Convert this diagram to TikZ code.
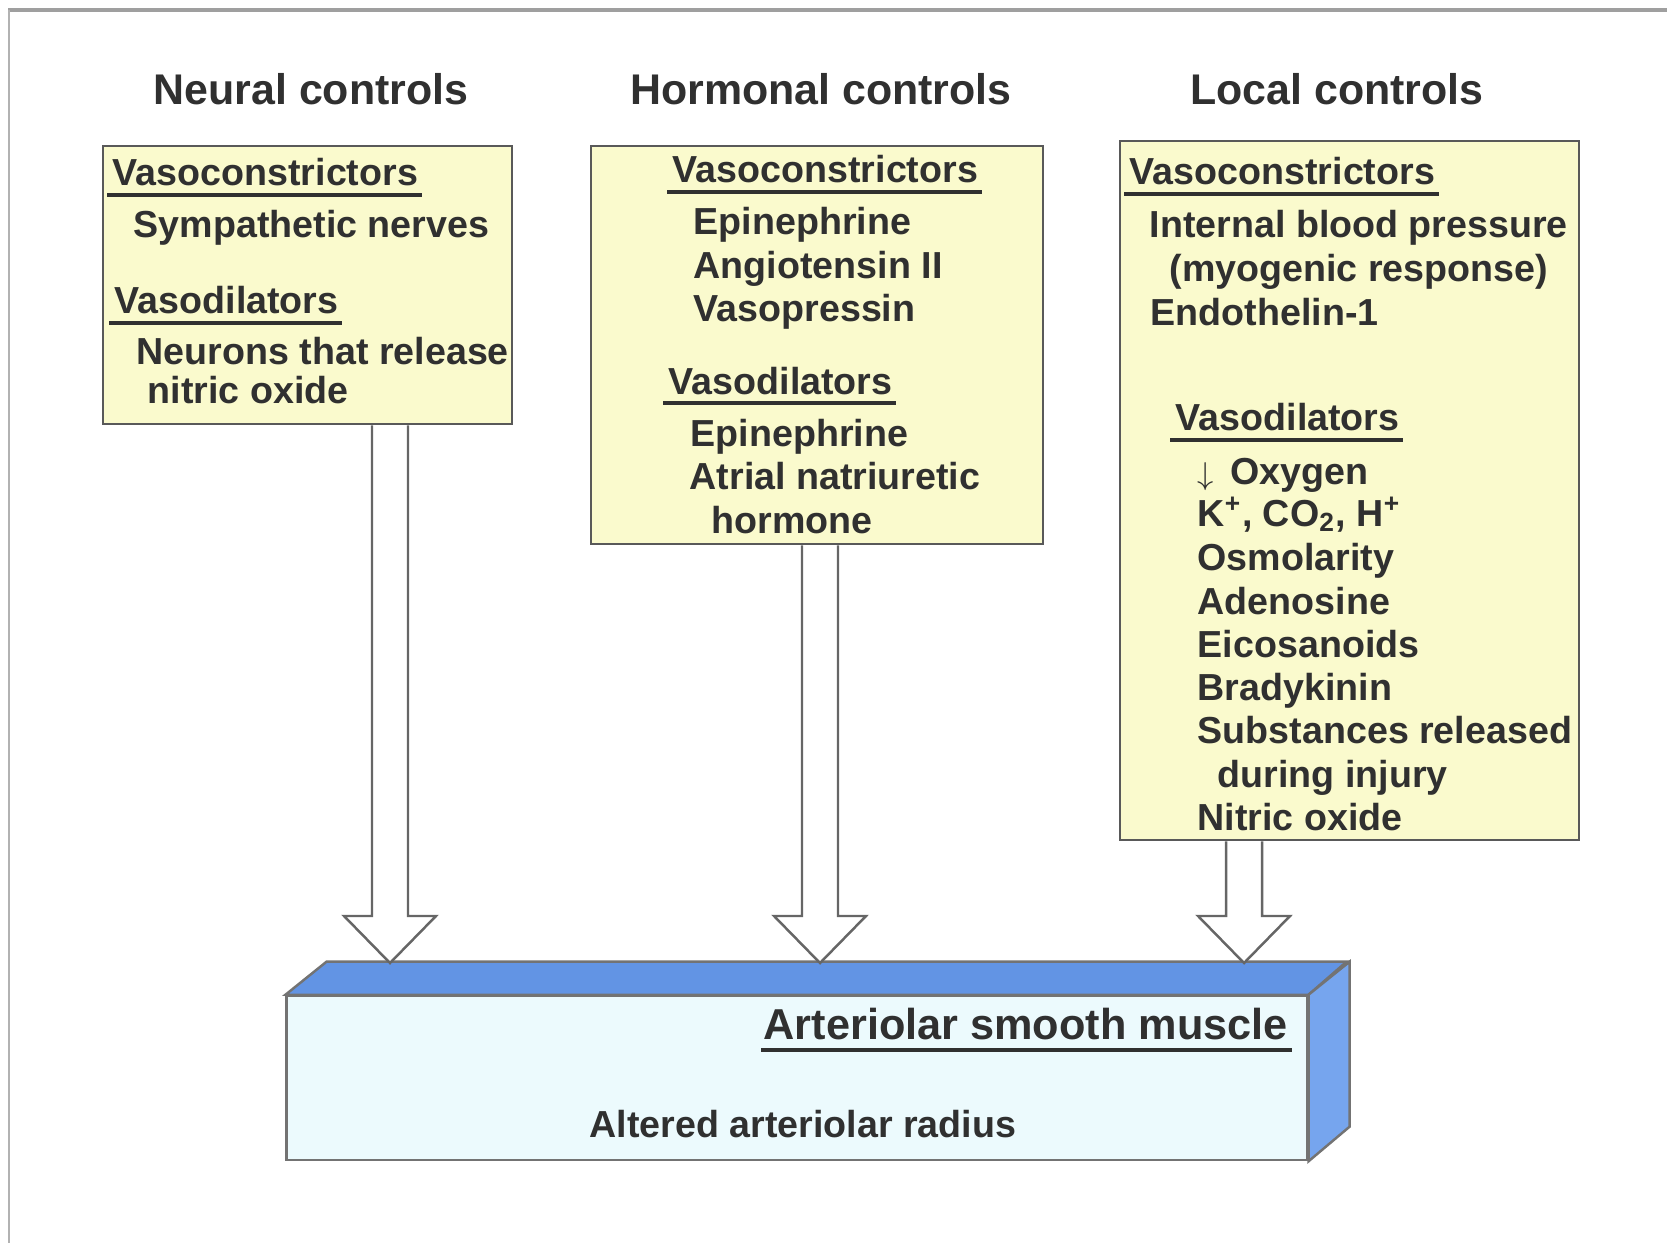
\documentclass[tikz,border=0pt]{standalone}
\usepackage{fontspec}
\setmainfont{Liberation Sans}
\usetikzlibrary{calc}
\definecolor{panelfill}{RGB}{250,250,205}
\definecolor{musclefront}{RGB}{236,250,253}
\definecolor{muscletop}{RGB}{98,148,228}
\definecolor{muscleside}{RGB}{118,165,238}
\definecolor{inkgray}{RGB}{48,48,48}
\tikzstyle{panel} = [draw=black!65, line width=0.7pt, fill=panelfill, rectangle, inner sep=0pt]
\tikzstyle{heading} = [anchor=base, font=\fontsize{12.2}{14}\selectfont\bfseries, text=inkgray, inner sep=0pt]
\tikzstyle{entry} = [anchor=base west, font=\fontsize{10.7}{12}\selectfont\bfseries, text=inkgray, inner sep=0pt]
\tikzstyle{uline} = [draw=inkgray, line width=1.2pt]
\tikzstyle{hollow} = [draw=black!60, line width=0.7pt, fill=white, line join=miter]
% open block arrow: start on a box, tip on the muscle
\newcommand{\hollowarrow}[2]{\draw[hollow] ($(#1)+(-18,0)$) -- ($(#2)+(-18,-47)$) -- ($(#2)+(-46,-47)$) -- (#2) -- ($(#2)+(46,-47)$) -- ($(#2)+(18,-47)$) -- ($(#1)+(18,0)$);}

\begin{document}
\begin{tikzpicture}[x=0.01cm, y=-0.01cm]
    \useasboundingbox (0,0) rectangle (1667,1243);
    \draw[gray!75, line width=1.3pt] (8,10) -- (1667,10);
    \draw[gray!60, line width=0.8pt] (9,10) -- (9,1243);

    % column titles
    \node[heading] (neuralt) at (311,105) {Neural controls};
    \node[heading] (hormonalt) at (821,105) {Hormonal controls};
    \node[heading] (localt) at (1337,105) {Local controls};

    % boxes
    \node[panel, minimum width=4.09cm, minimum height=2.78cm] (neural) at (307.5,285) {};
    \node[panel, minimum width=4.52cm, minimum height=3.98cm] (hormonal) at (817,345) {};
    \node[panel, minimum width=4.59cm, minimum height=6.99cm] (local) at (1349.5,490.5) {};

    % neural
    \node[entry] (nvc) at (112,186) {Vasoconstrictors};
    \node[entry] (nvd) at (114,314) {Vasodilators};
    \foreach \x/\y/\t in {133/238/{Sympathetic nerves}, 136/365/{Neurons that release}, 147/403/{nitric oxide}}
        \node[entry] at (\x,\y) {\t};

    % hormonal
    \node[entry] (hvc) at (672,183) {Vasoconstrictors};
    \node[entry] (hvd) at (668,394) {Vasodilators};
    \foreach \x/\y/\t in {693/235/Epinephrine, 693/279/{Angiotensin II}, 693/322/Vasopressin,
                          690/446/Epinephrine, 689/489/{Atrial natriuretic}, 711/533/hormone}
        \node[entry] at (\x,\y) {\t};

    % local
    \node[entry] (lvc) at (1129,185) {Vasoconstrictors};
    \node[entry] (lvd) at (1175,431) {Vasodilators};
    \foreach \x/\y/\t in {1149/238/{Internal blood pressure}, 1169/282/{(myogenic response)}, 1150/326/Endothelin-1,
                          1197/484/{{\small$\downarrow$}\, Oxygen}, 1197/526/{K\textsuperscript{+}, CO\textsubscript{2}, H\textsuperscript{+}},
                          1197/570/Osmolarity, 1197/614/Adenosine, 1197/657/Eicosanoids, 1197/700/Bradykinin,
                          1197/743/{Substances released}, 1217/787/{during injury}, 1197/830/{Nitric oxide}}
        \node[entry] at (\x,\y) {\t};

    \foreach \n in {nvc,nvd,hvc,hvd,lvc,lvd}
        \draw[uline] ($(\n.base west)+(-5,9)$) -- ($(\n.base east)+(3,9)$);

    % arteriolar smooth muscle block
    \node[draw=black!55, line width=0.7pt, fill=musclefront, minimum width=10.2cm, minimum height=1.64cm] (muscle) at (797,1078) {};
    \draw[draw=black!55, line width=0.7pt, fill=muscletop] (muscle.north west) -- ++(41,-33) -- ++(1020,0) -- (muscle.north east) -- cycle;
    \draw[draw=black!55, line width=0.7pt, fill=muscleside] (muscle.north east) -- ++(41,-33) -- ++(0,165) -- (muscle.south east) -- cycle;
    \node[entry, font=\fontsize{12.3}{14}\selectfont\bfseries] (muscletitle) at (763,1039) {Arteriolar smooth muscle};
    \draw[uline, line width=1.4pt] ($(muscletitle.base west)+(-2,11)$) -- ($(muscletitle.base east)+(4,11)$);
    \node[entry, anchor=base] (radius) at (803,1137) {Altered arteriolar radius};

    % arrows
    \coordinate (t1) at (390,963);
    \coordinate (t2) at (820,963);
    \coordinate (t3) at (1244,963);
    \coordinate (s1) at (neural.south -| t1);
    \coordinate (s2) at (hormonal.south -| t2);
    \coordinate (s3) at (local.south -| t3);
    \hollowarrow{s1}{t1}
    \hollowarrow{s2}{t2}
    \hollowarrow{s3}{t3}
\end{tikzpicture}
\end{document}
